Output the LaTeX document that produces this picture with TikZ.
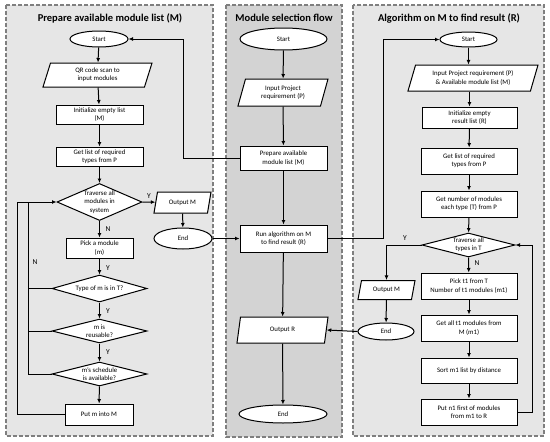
\documentclass[tikz,border=0pt]{standalone}
\usepackage{fontspec}
\setmainfont{Carlito}
\usetikzlibrary{shapes.geometric,arrows.meta}
\definecolor{panelL}{HTML}{E6E6E6}
\definecolor{panelM}{HTML}{D3D3D3}
\definecolor{bordergray}{HTML}{7F7F7F}
\begin{document}
\begin{tikzpicture}[x=1pt,y=-1pt,
  panel/.style={draw=bordergray, line width=1.1pt, dash pattern=on 4pt off 2pt},
  ttl/.style={font=\fontsize{10.5}{12}\selectfont\bfseries},
  base/.style={draw=black, line width=1pt, fill=white, inner sep=1pt, align=center, font=\fontsize{6.8}{8.3}\selectfont},
  box/.style={base, rectangle, minimum width=#1},
  term/.style={base, ellipse, minimum width=#1},
  para/.style={base, trapezium, trapezium left angle=65, trapezium right angle=115, trapezium stretches body, minimum width=#1},
  dia/.style={base, diamond, minimum width=#1},
  arr/.style={line width=1pt, -{Latex[length=4.5pt,width=4pt]}},
  ln/.style={line width=1pt},
  yn/.style={font=\fontsize{7.5}{8}\selectfont, inner sep=0pt}
]
\useasboundingbox (0,0) rectangle (550,442);
\fill[white] (0,0) rectangle (550,442);
% panels
\draw[panel, fill=panelL] (6,5) rectangle (213,436);
\draw[panel, fill=panelM] (226,5) rectangle (342,437);
\draw[panel, fill=panelL] (353,5) rectangle (544,436);
\node[ttl] (t1) at (110,18) {Prepare available module list (M)};
\node[ttl] (t2) at (284,18) {Module selection flow};
\node[ttl] (t3) at (449,18) {Algorithm on M to find result (R)};

% left column
\node[term=58, minimum height=16] (s1) at (99,39) {Start};
\node[para=109, minimum height=24] (qr) at (97.5,75) {QR code scan to\\input modules};
\node[box=87, minimum height=19] (init1) at (99.5,114.5) {Initialize empty list\\(M)};
\node[box=87, minimum height=19] (get1) at (99.5,156.5) {Get list of required\\types from P};
\node[dia=85, minimum height=37, label={[base,draw=none,fill=none]center:Traverse all\\modules in\\system}] (trav1) at (99.5,202) {};
\node[para=57, minimum height=21] (outM1) at (182.5,202.5) {Output M};
\node[term=58, minimum height=21] (end1) at (183,238.5) {End};
\node[box=67, minimum height=20] (pick1) at (99.5,248) {Pick a module\\(m)};
\node[dia=95, minimum height=27, label={[base,draw=none,fill=none]center:Type of m is in T?}] (type1) at (99.5,288.5) {};
\node[dia=95, minimum height=24, label={[base,draw=none,fill=none]center:m is\\reusable?}] (reuse1) at (99.5,331) {};
\node[dia=95, minimum height=24, label={[base,draw=none,fill=none]center:m's schedule\\is available?}] (sched1) at (99.5,374) {};
\node[box=68, minimum height=21] (put1) at (99,414.5) {Put m into M};

% middle column
\node[term=87, minimum height=22] (s2) at (283.5,39) {Start};
\node[para=90, minimum height=27] (inP) at (283,92.5) {Input Project\\requirement (P)};
\node[box=87, minimum height=24] (prep) at (283.5,158) {Prepare available\\module list (M)};
\node[box=87, minimum height=27] (run) at (283.5,238.5) {Run algorithm on M\\to find result (R)};
\node[para=91, minimum height=26] (outR) at (282.5,330) {Output R};
\node[term=88, minimum height=18] (end2) at (283,414) {End};

% right column
\node[term=57, minimum height=15] (s3) at (468.5,39.5) {Start};
\node[para=130, minimum height=26] (inPM) at (473,78) {Input Project requirement (P)\\\& Available module list (M)};
\node[box=95, minimum height=21] (init3) at (469.5,117.5) {Initialize empty\\result list (R)};
\node[box=96, minimum height=26] (get3) at (469,161) {Get list of required\\types from P};
\node[box=96, minimum height=26] (num3) at (469,204) {Get number of modules\\each type (T) from P};
\node[dia=93, minimum height=24, label={[base,draw=none,fill=none]center:Traverse all\\types in T}] (trav3) at (468.5,245) {};
\node[box=96, minimum height=26] (pick3) at (469,286) {Pick t1 from T\\Number of t1 modules (m1)};
\node[box=96, minimum height=26] (getall3) at (469,328) {Get all t1 modules from\\M (m1)};
\node[box=96, minimum height=25] (sort3) at (469,370.5) {Sort m1 list by distance};
\node[box=96, minimum height=26] (put3) at (469,412) {Put n1 first of modules\\from m1 to R};
\node[para=57, minimum height=19] (outM3) at (386.5,290) {Output M};
\node[term=56, minimum height=17] (end3) at (386,331.5) {End};

% coordinates
\coordinate (nx) at (28,202);
\coordinate (px) at (17,202);
\coordinate (lx) at (183,157);
\coordinate (rx) at (383,238);
\coordinate (tx) at (532,245);

% left connectors
\draw[arr] (s1) -- (qr);
\draw[arr] (qr) -- (init1);
\draw[arr] (init1) -- (get1);
\draw[arr] (get1) -- (trav1);
\draw[arr] (trav1.east) -- (outM1);
\draw[arr] (outM1) -- (end1);
\draw[arr] (trav1.south) -- (pick1);
\draw[arr] (pick1) -- (type1);
\draw[arr] (type1) -- (reuse1);
\draw[arr] (reuse1) -- (sched1);
\draw[arr] (sched1) -- (put1);
\draw[arr] (put1.west) -| (px) -- (trav1.west);
\draw[ln] (sched1.west) -| (nx);
\draw[ln] (type1.west) -- (type1.west -| nx);
\draw[ln] (reuse1.west) -- (reuse1.west -| nx);
\node[yn] (y1) at (149,196) {Y};
\node[yn] (n1) at (108,229) {N};
\node[yn] (y2) at (108,268) {Y};
\node[yn] (y3) at (108,311) {Y};
\node[yn] (y4) at (108,352) {Y};
\node[yn] (n2) at (35,262) {N};

% middle connectors
\draw[arr] (s2) -- (inP);
\draw[arr] (inP) -- (prep);
\draw[arr] (prep) -- (run);
\draw[arr] (run) -- (outR);
\draw[arr] (outR) -- (end2);
\draw[arr] (prep.west) -- (prep.west -| lx) |- (s1.east);
\draw[arr] (end1.east) -- (run.west);
\draw[arr] (run.east) -- (run.east -| rx) |- (s3.west);
\draw[arr] (end3.west) -- (outR.east);

% right connectors
\draw[arr] (s3) -- (inPM.north -| s3);
\draw[arr] (inPM.south -| init3) -- (init3);
\draw[arr] (init3) -- (get3);
\draw[arr] (get3) -- (num3);
\draw[arr] (num3) -- (trav3);
\draw[arr] (trav3.south) -- (pick3);
\draw[arr] (pick3) -- (getall3);
\draw[arr] (getall3) -- (sort3);
\draw[arr] (sort3) -- (put3);
\draw[arr] (put3.east) -| (tx) -- (trav3.east);
\draw[arr] (trav3.west) -| (outM3.north);
\draw[arr] (outM3) -- (end3);
\node[yn] (y5) at (405,238) {Y};
\node[yn] (n3) at (477,263) {N};
\end{tikzpicture}
\end{document}
